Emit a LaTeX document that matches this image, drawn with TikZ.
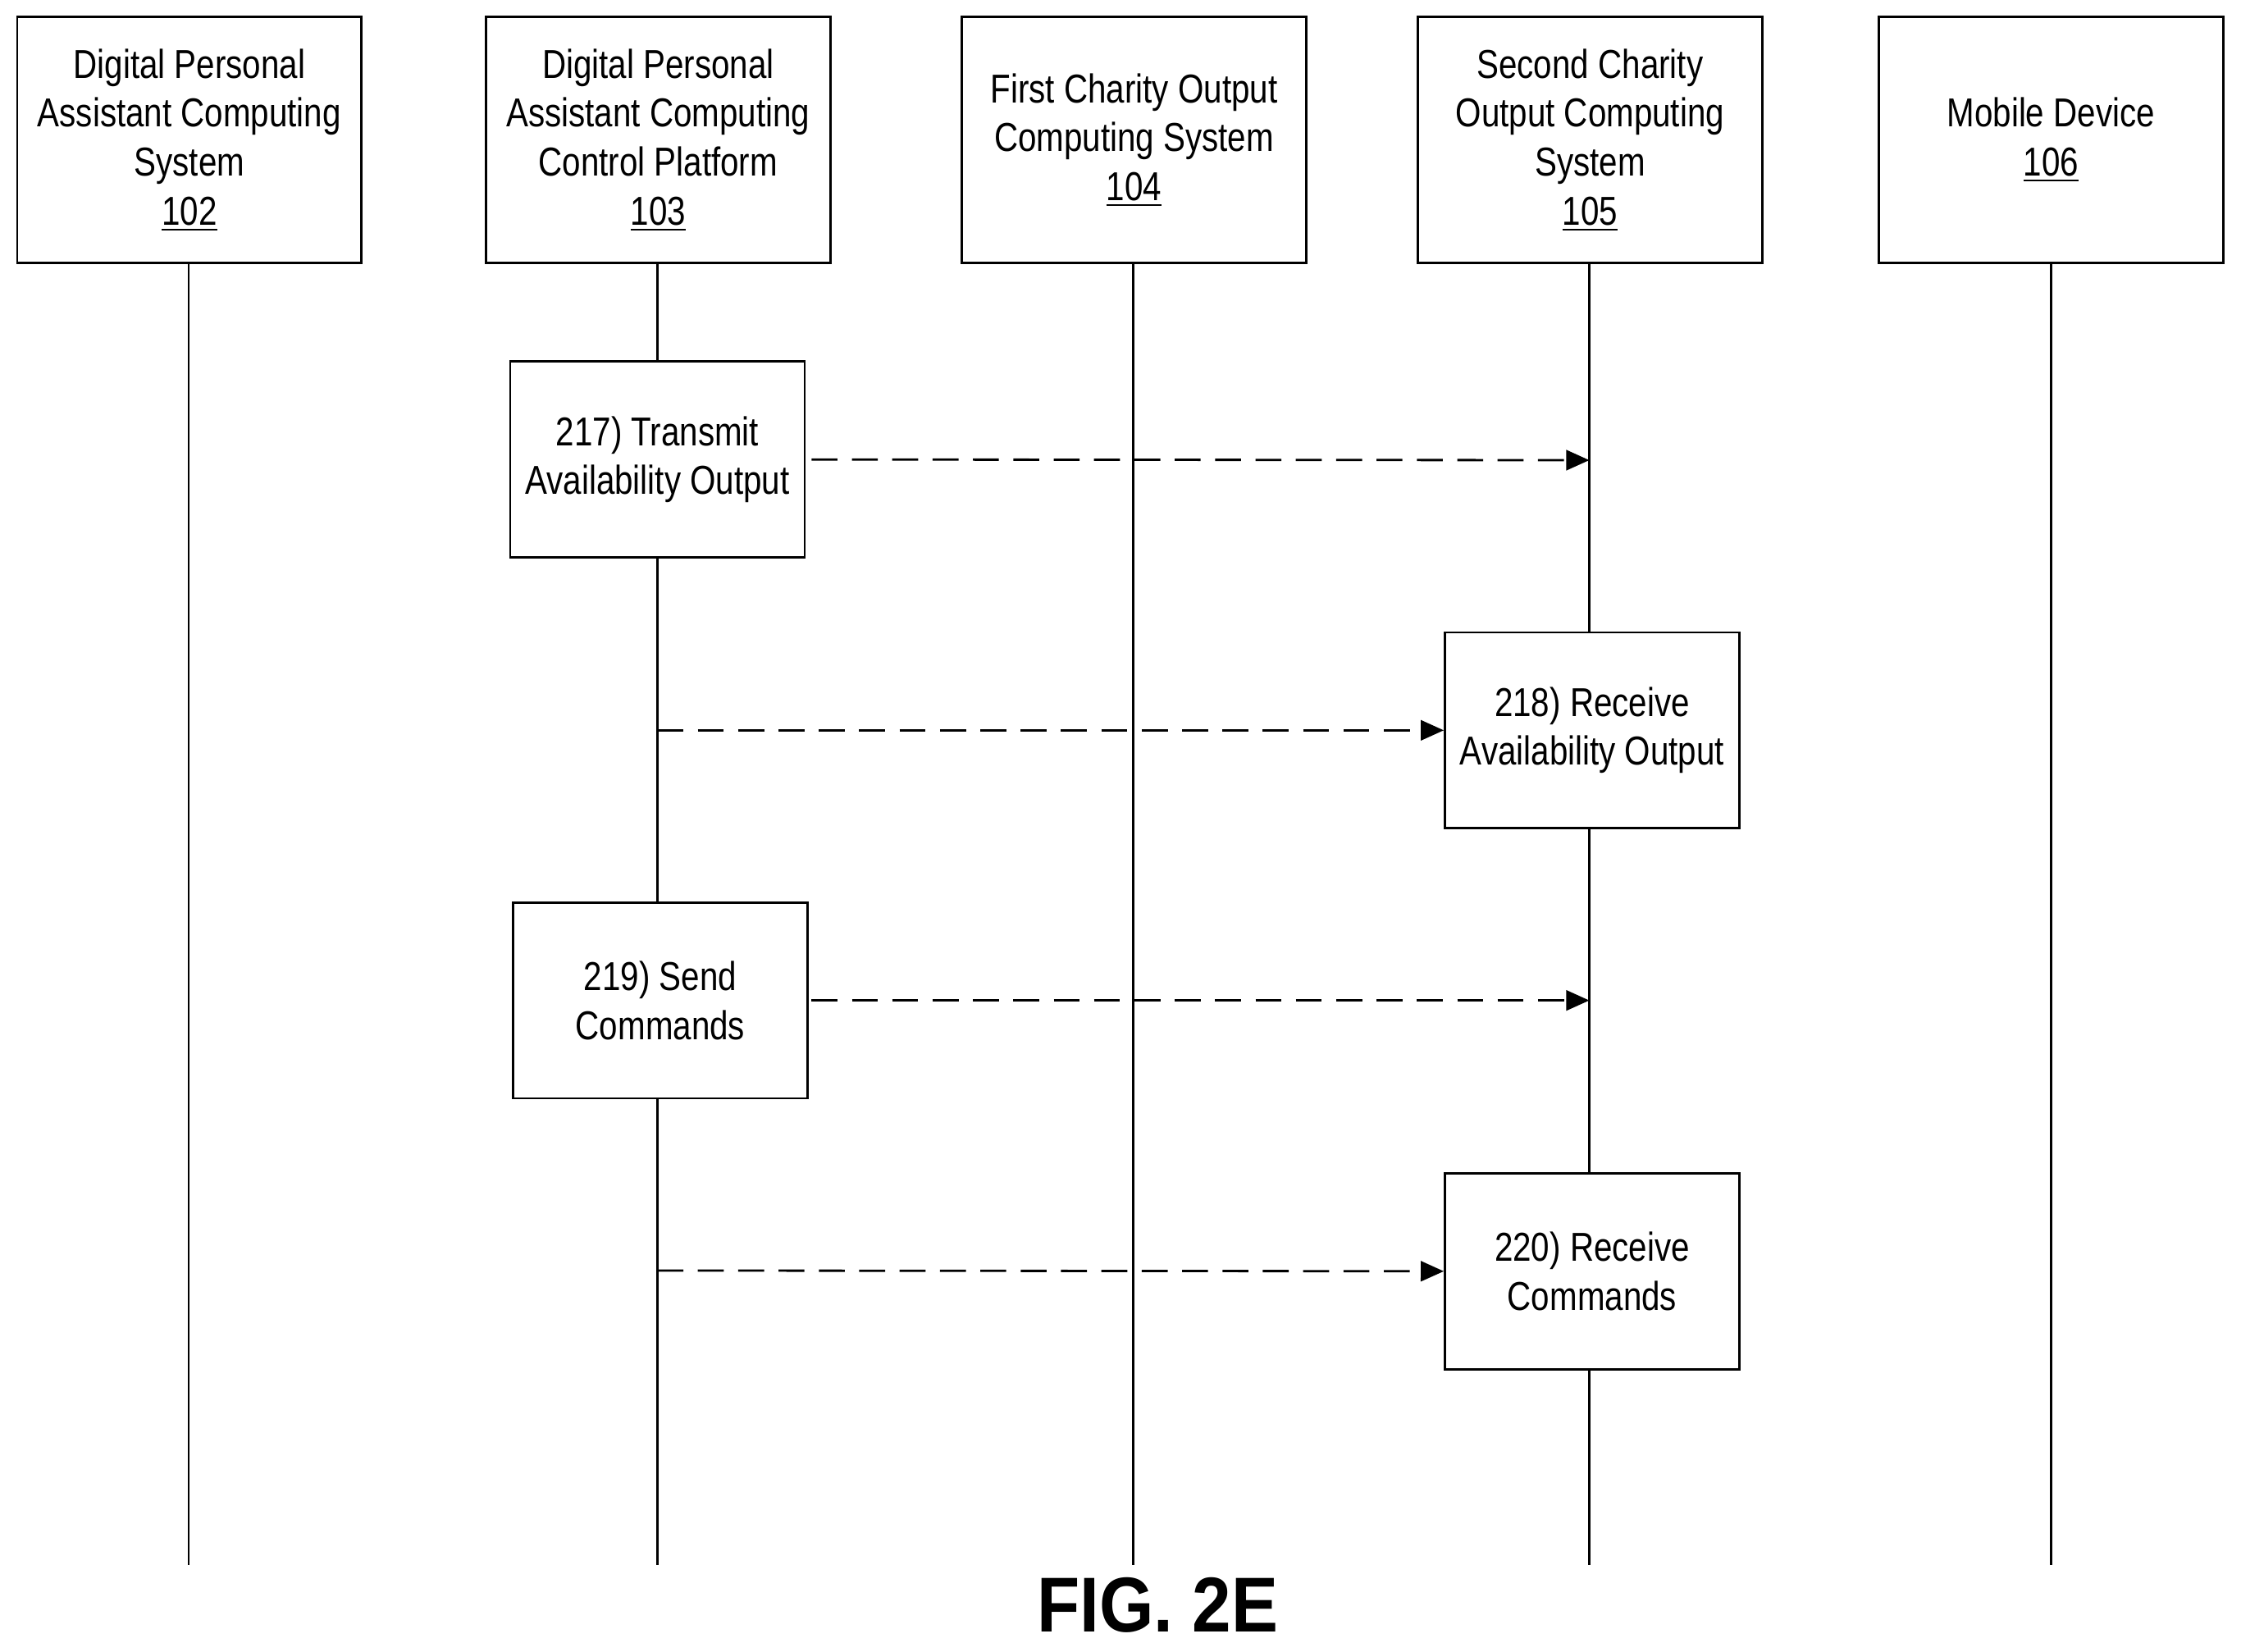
\documentclass[tikz,border=0pt]{standalone}
\usepackage{fontspec}
\setmainfont{Liberation Sans}[FakeStretch=0.82]
\newfontfamily\figfont{Liberation Sans}[FakeStretch=0.9]
\usetikzlibrary{arrows.meta}
\tikzset{
  head/.style={draw,thick,minimum width=241*0.017423cm,minimum height=172*0.017423cm,align=center,font=\fontsize{14}{17}\selectfont},
  stepbox/.style={draw,thick,minimum width=206*0.017423cm,minimum height=137*0.017423cm,align=center,font=\fontsize{14}{17}\selectfont},
  msg/.style={thick,dash pattern=on 9pt off 5pt,-{Triangle[length=8pt,width=7pt]}}
}
\begin{document}
\begin{tikzpicture}[x=0.017423cm,y=-0.017423cm]
  \useasboundingbox (0,0) rectangle (1568,1155.4);
  %lifelines
  \foreach \n/\x in {a/132,b/460,c/793,d/1112,e/1435}{
    \coordinate (\n top) at (\x,184);
    \coordinate (\n bot) at (\x,1095);
    \draw[thick] (\n top)--(\n bot);
  }
  \node[head,fill=white] (sys102) at (132.5,98) {Digital Personal\\Assistant Computing\\System\\\underline{102}};
  \node[head,fill=white] (plat103) at (460.5,98) {Digital Personal\\Assistant Computing\\Control Platform\\\underline{103}};
  \node[head,fill=white] (first104) at (793.5,98) {First Charity Output\\Computing System\\\underline{104}};
  \node[head,fill=white] (second105) at (1112.5,98) {Second Charity\\Output Computing\\System\\\underline{105}};
  \node[head,fill=white] (mobile106) at (1435,98) {Mobile Device\\\underline{106}};
  %steps
  \node[stepbox,fill=white] (s217) at (460,321.5) {217) Transmit\\Availability Output};
  \node[stepbox,fill=white] (s218) at (1114,511) {218) Receive\\Availability Output};
  \node[stepbox,fill=white] (s219) at (462,700) {219) Send\\Commands};
  \node[stepbox,fill=white] (s220) at (1114,889.5) {220) Receive\\Commands};
  \coordinate (t217) at (1112,322);
  \coordinate (f218) at (460,511);
  \coordinate (t219) at (1112,700);
  \coordinate (f220) at (460,889);
  \draw[msg] ([xshift=4*0.017423cm]s217.east)--(t217);
  \draw[msg] (f218)--(s218.west);
  \draw[msg] ([xshift=2*0.017423cm]s219.east)--(t219);
  \draw[msg] (f220)--(s220.west);
  \node[font=\figfont\bfseries\fontsize{27}{30}\selectfont] (fig) at (810,1123) {FIG. 2E};
\end{tikzpicture}
\end{document}
